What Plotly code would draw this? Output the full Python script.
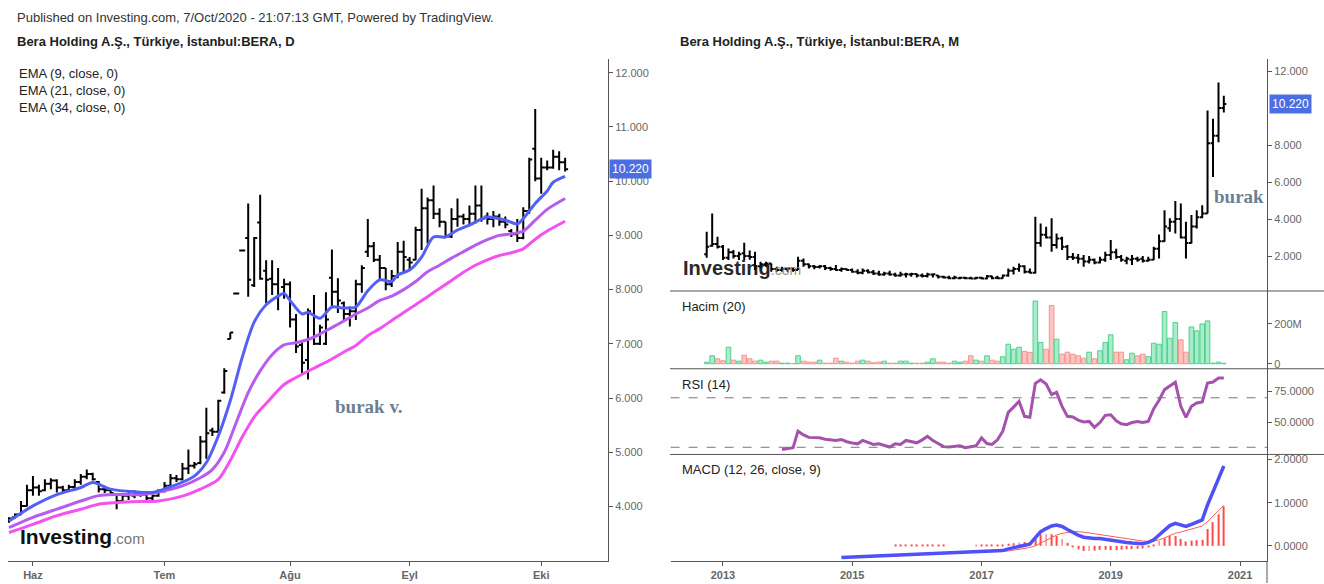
import pandas as pd
import plotly.graph_objects as go

W, H = 1324, 584


def fx(p):
    return p / W


def fy(p):
    return 1 - p / H


# ---- daily bars, left pane (Bera, D) ----
d_open = [3.74, 3.80, 3.85, 4.01, 4.30, 4.35, 4.30, 4.42, 4.48, 4.35,
          4.30, 4.36, 4.45, 4.55, 4.60, 4.45, 4.32, 4.30, 4.22, 4.10,
          4.20, 4.20, 4.24, 4.22, 4.15, 4.20, 4.28, 4.38, 4.52, 4.50,
          4.70, 4.75, 4.80, 5.20, 5.40, 5.38, 6.10, 7.09, 7.93, 8.72,
          8.95, 8.08, 9.24, 8.35, 8.20, 8.10, 8.05, 8.10, 7.45, 6.98,
          6.70, 7.55, 7.00, 7.00, 8.22, 7.96, 7.75, 7.55, 7.60, 8.10,
          8.70, 8.80, 8.55, 8.40, 8.10, 8.25, 8.70, 8.55, 8.55, 9.10,
          9.50, 9.65, 9.40, 9.25, 8.98, 9.30, 9.35, 9.30, 9.40, 9.55,
          9.35, 9.30, 9.35, 9.25, 9.08, 9.02, 8.95, 9.45, 10.60, 10.05,
          10.25, 10.25, 10.45, 10.35]
d_high = [3.80, 3.87, 4.10, 4.40, 4.56, 4.40, 4.50, 4.52, 4.50, 4.38,
          4.40, 4.50, 4.60, 4.68, 4.62, 4.47, 4.38, 4.34, 4.24, 4.25,
          4.28, 4.30, 4.26, 4.24, 4.22, 4.32, 4.45, 4.60, 4.58, 4.80,
          5.05, 4.82, 5.30, 5.82, 5.45, 5.97, 6.55, 7.21, 7.93, 8.72,
          9.59, 8.97, 9.75, 8.54, 8.54, 8.40, 8.20, 8.15, 7.55, 7.05,
          7.65, 7.90, 7.35, 7.95, 8.74, 8.21, 7.78, 7.69, 8.18, 8.45,
          9.30, 8.88, 8.64, 8.40, 8.36, 8.88, 8.90, 8.60, 9.16, 9.86,
          9.70, 9.92, 9.50, 9.25, 9.50, 9.68, 9.40, 9.55, 9.92, 9.92,
          9.42, 9.45, 9.40, 9.35, 9.12, 9.30, 9.52, 10.43, 11.33, 10.43,
          10.38, 10.58, 10.55, 10.43]
d_low = [3.70, 3.78, 3.84, 4.00, 4.20, 4.20, 4.28, 4.32, 4.26, 4.26,
         4.28, 4.32, 4.40, 4.50, 4.48, 4.26, 4.25, 4.22, 3.95, 4.08,
         4.12, 4.15, 4.18, 4.12, 4.12, 4.18, 4.26, 4.35, 4.45, 4.48,
         4.60, 4.70, 4.78, 4.88, 5.30, 5.38, 6.08, 7.09, 7.93, 8.72,
         7.87, 8.05, 8.18, 7.75, 7.90, 7.62, 7.83, 7.30, 6.83, 6.43,
         6.34, 6.98, 6.98, 6.98, 7.66, 7.57, 7.44, 7.32, 7.44, 7.94,
         8.60, 8.51, 8.18, 7.99, 8.05, 8.21, 8.33, 8.35, 8.54, 8.73,
         8.85, 9.30, 9.15, 8.95, 8.95, 9.16, 9.20, 9.20, 9.22, 9.25,
         9.20, 9.15, 9.18, 9.13, 8.97, 8.88, 8.93, 9.40, 10.00, 9.77,
         10.20, 10.23, 10.20, 10.18]
d_close = [3.78, 3.85, 4.01, 4.30, 4.35, 4.28, 4.42, 4.48, 4.35, 4.30,
           4.36, 4.45, 4.55, 4.60, 4.50, 4.32, 4.30, 4.25, 4.10, 4.20,
           4.22, 4.25, 4.22, 4.15, 4.20, 4.28, 4.38, 4.52, 4.50, 4.70,
           4.75, 4.78, 5.20, 5.35, 5.38, 5.95, 6.50, 7.21, 7.93, 8.72,
           8.18, 8.95, 8.20, 8.18, 8.10, 7.90, 8.10, 7.45, 6.95, 6.65,
           7.60, 7.00, 7.30, 7.45, 7.96, 7.80, 7.55, 7.60, 8.10, 8.40,
           8.80, 8.55, 8.40, 8.10, 8.25, 8.70, 8.60, 8.50, 9.10, 9.50,
           9.65, 9.40, 9.25, 8.98, 9.30, 9.35, 9.30, 9.40, 9.55, 9.30,
           9.30, 9.35, 9.25, 9.20, 9.02, 8.95, 9.45, 10.40, 10.05, 10.25,
           10.25, 10.45, 10.35, 10.22]

day_tick_pos = [4, 26, 47, 67, 89]
day_tick_text = ["Haz", "Tem", "Ağu", "Eyl", "Eki"]

ema9_at = [0, 4, 8, 12, 14, 17, 21, 24, 27, 31, 33, 35, 37, 39, 41, 43, 45, 46, 47, 49,
           50, 52, 54, 56, 58, 60, 62, 64, 65, 67, 69, 71, 73, 75, 77, 80, 83, 85, 86, 88,
           90, 91, 93]
ema9 = [3.73, 4.01, 4.22, 4.35, 4.44, 4.32, 4.27, 4.26, 4.36, 4.56, 4.81, 5.30, 5.95, 6.75,
        7.40, 7.72, 7.88, 7.93, 7.80, 7.55, 7.58, 7.47, 7.68, 7.66, 7.68, 7.98, 8.18, 8.15,
        8.27, 8.36, 8.60, 8.97, 8.97, 9.10, 9.19, 9.34, 9.28, 9.21, 9.31, 9.59, 9.82, 9.98,
        10.09]
ema21_at = [0, 4, 8, 12, 15, 18, 22, 26, 29, 32, 34, 36, 38, 40, 42, 44, 46, 48, 50, 52,
            54, 56, 58, 60, 62, 64, 66, 68, 70, 72, 74, 76, 78, 80, 82, 84, 86, 88, 90, 93]
ema21 = [3.61, 3.80, 3.95, 4.10, 4.20, 4.22, 4.22, 4.29, 4.38, 4.53, 4.68, 5.00, 5.55, 6.10,
         6.50, 6.80, 6.98, 7.02, 7.08, 7.18, 7.30, 7.42, 7.55, 7.66, 7.80, 7.88, 8.00, 8.15,
         8.33, 8.45, 8.58, 8.70, 8.82, 8.92, 9.00, 9.03, 9.08, 9.28, 9.48, 9.68]
ema34_at = [0, 4, 8, 12, 15, 18, 22, 25, 29, 32, 35, 37, 39, 41, 43, 46, 48, 51, 54, 56,
            58, 60, 62, 64, 66, 68, 70, 72, 74, 76, 78, 80, 82, 84, 86, 88, 90, 93]
ema34 = [3.52, 3.67, 3.83, 3.95, 4.04, 4.07, 4.09, 4.10, 4.19, 4.32, 4.50, 4.85, 5.28, 5.65,
         5.90, 6.25, 6.38, 6.55, 6.72, 6.85, 6.97, 7.15, 7.28, 7.43, 7.58, 7.72, 7.87, 8.02,
         8.17, 8.32, 8.45, 8.55, 8.63, 8.68, 8.75, 8.93, 9.08, 9.26]

# ---- monthly bars, right pane (Bera, M), Oct 2012 .. Oct 2020 ----
months = pd.date_range("2012-10-01", periods=97, freq="MS")
m_open = [2.10, 2.55, 2.65, 2.50, 1.90, 2.20, 2.00, 2.15, 2.00, 1.95,
          1.45, 1.55, 1.60, 1.30, 1.25, 1.30, 1.32, 1.25, 1.75, 1.55,
          1.45, 1.40, 1.45, 1.35, 1.30, 1.25, 1.30, 1.25, 1.15, 1.10,
          1.20, 1.12, 1.05, 1.00, 1.05, 1.00, 0.95, 1.00, 1.00, 1.03,
          0.95, 0.92, 1.00, 0.95, 0.88, 0.84, 0.80, 0.80, 0.82, 0.80,
          0.78, 0.82, 0.78, 0.90, 0.82, 0.80, 0.95, 1.20, 1.30, 1.45,
          1.15, 1.10, 2.70, 3.15, 3.00, 2.60, 2.95, 2.50, 1.95, 1.90,
          1.85, 1.70, 1.80, 1.65, 1.80, 2.05, 2.20, 1.95, 1.75, 1.80,
          1.85, 1.85, 1.75, 1.80, 2.40, 2.80, 3.50, 3.85, 4.00, 3.00,
          2.70, 3.60, 4.10, 4.30, 8.10, 8.50, 10.00]
m_high = [3.31, 4.30, 3.04, 2.59, 2.41, 2.32, 2.23, 2.72, 2.30, 2.23,
          1.69, 1.69, 1.60, 1.42, 1.42, 1.38, 1.38, 1.96, 1.87, 1.60,
          1.51, 1.51, 1.51, 1.42, 1.51, 1.38, 1.33, 1.33, 1.28, 1.33,
          1.28, 1.24, 1.20, 1.15, 1.20, 1.10, 1.15, 1.10, 1.10, 1.06,
          1.06, 1.10, 1.06, 0.97, 0.93, 0.93, 0.93, 0.88, 0.88, 0.88,
          0.88, 0.88, 0.97, 0.93, 0.93, 1.00, 1.33, 1.42, 1.60, 1.50,
          1.33, 4.13, 3.76, 3.58, 4.04, 3.22, 3.04, 2.59, 2.17, 2.11,
          2.05, 2.00, 1.87, 1.96, 2.23, 2.86, 2.40, 2.05, 1.96, 2.05,
          1.96, 2.00, 1.96, 2.50, 3.17, 4.48, 4.04, 4.98, 4.84, 3.85,
          4.22, 4.48, 4.75, 9.87, 9.42, 11.39, 10.67]
m_low = [1.90, 2.50, 2.41, 1.78, 1.78, 1.87, 1.78, 1.78, 1.80, 1.24,
         1.33, 1.42, 1.15, 1.15, 1.15, 1.15, 1.15, 1.24, 1.42, 1.33,
         1.28, 1.33, 1.24, 1.20, 1.20, 1.15, 1.20, 1.10, 1.02, 1.02,
         1.06, 0.97, 0.93, 0.93, 0.93, 0.88, 0.88, 0.84, 0.88, 0.84,
         0.84, 0.84, 0.84, 0.79, 0.79, 0.75, 0.75, 0.75, 0.75, 0.75,
         0.75, 0.75, 0.75, 0.75, 0.75, 0.79, 0.88, 1.00, 1.15, 1.06,
         1.06, 1.06, 2.50, 2.95, 2.23, 2.41, 2.32, 1.78, 1.78, 1.60,
         1.42, 1.60, 1.55, 1.60, 1.69, 1.78, 1.85, 1.69, 1.55, 1.51,
         1.69, 1.65, 1.69, 1.78, 1.87, 2.77, 3.31, 3.22, 2.95, 1.87,
         2.68, 3.49, 4.04, 4.30, 6.27, 8.16, 9.77]
m_close = [2.50, 2.65, 2.50, 1.90, 2.20, 2.00, 2.10, 2.00, 1.95, 1.45,
           1.55, 1.60, 1.30, 1.25, 1.30, 1.32, 1.25, 1.75, 1.55, 1.45,
           1.40, 1.45, 1.35, 1.30, 1.25, 1.30, 1.25, 1.15, 1.10, 1.20,
           1.12, 1.05, 1.00, 1.05, 1.00, 0.95, 1.00, 1.02, 1.03, 0.95,
           0.92, 1.00, 1.02, 0.88, 0.84, 0.80, 0.84, 0.82, 0.80, 0.78,
           0.82, 0.78, 0.90, 0.80, 0.80, 0.95, 1.20, 1.30, 1.45, 1.15,
           1.10, 2.70, 3.15, 3.00, 2.60, 2.95, 2.50, 1.95, 1.90, 1.85,
           1.70, 1.80, 1.65, 1.80, 2.05, 2.20, 1.95, 1.80, 1.85, 1.85,
           1.80, 1.75, 1.80, 2.40, 2.80, 3.60, 3.85, 4.00, 3.00, 2.70,
           3.60, 4.10, 4.30, 8.10, 8.50, 10.00, 10.22]

# volume, millions of shares
volume_m = [8, 40, 25, 15, 83, 18, 13, 43, 25, 13,
            18, 8, 13, 13, 3, 3, 1, 40, 13, 8,
            8, 18, 3, 3, 28, 13, 8, 3, 13, 18,
            13, 5, 8, 13, 3, 3, 13, 13, 3, 3,
            3, 8, 25, 8, 8, 3, 13, 8, 13, 40,
            18, 13, 40, 18, 13, 35, 98, 73, 83, 62,
            57, 315, 107, 73, 292, 123, 48, 58, 48, 40,
            28, 58, 25, 65, 107, 145, 58, 58, 20, 53,
            40, 48, 35, 103, 98, 262, 128, 207, 120, 58,
            185, 165, 200, 215, 3, 8, 2]

# RSI(14) from month 14
rsi = [28.2, 29.0, 29.6, 43.0, 40.0, 38.0, 38.0, 37.6, 36.5, 36.0,
       35.5, 36.3, 34.5, 33.5, 32.8, 35.5, 34.0, 32.3, 32.8, 31.5,
       30.2, 32.8, 32.3, 35.5, 34.5, 33.6, 36.0, 38.9, 35.5, 33.0,
       30.5, 30.2, 30.5, 31.2, 29.6, 30.5, 31.2, 37.6, 33.0, 32.3,
       36.0, 43.0, 58.2, 62.5, 67.1, 55.0, 54.2, 81.7, 84.6, 81.2,
       72.6, 74.4, 63.1, 55.0, 54.5, 52.0, 50.5, 50.9, 46.1, 50.0,
       55.8, 56.3, 51.4, 49.0, 48.2, 50.0, 50.9, 50.1, 50.9, 61.2,
       68.0, 76.6, 79.5, 82.5, 63.1, 54.2, 63.1, 65.8, 66.6, 82.0,
       82.8, 86.0, 86.0]

# MACD(12, 26, close, 9): line from month 25, signal and histogram from month 33
macd = [-0.27, -0.265, -0.26, -0.255, -0.25, -0.245, -0.24, -0.23, -0.225, -0.22,
        -0.21, -0.205, -0.20, -0.19, -0.185, -0.18, -0.175, -0.17, -0.17, -0.165,
        -0.165, -0.16, -0.16, -0.155, -0.155, -0.15, -0.145, -0.14, -0.13, -0.125,
        -0.11, -0.07, -0.04, 0.0, 0.03, 0.04, 0.19, 0.33, 0.40, 0.46,
        0.48, 0.45, 0.38, 0.31, 0.25, 0.20, 0.18, 0.17, 0.17, 0.15,
        0.12, 0.10, 0.09, 0.08, 0.065, 0.06, 0.05, 0.08, 0.14, 0.25,
        0.36, 0.47, 0.52, 0.48, 0.45, 0.50, 0.55, 0.60, 0.95, 1.25,
        1.55, 1.85]
signal = [-0.25, -0.245, -0.24, -0.235, -0.225, -0.215, -0.205, -0.20, -0.19, -0.185,
          -0.18, -0.175, -0.17, -0.17, -0.165, -0.165, -0.16, -0.16, -0.155, -0.15,
          -0.145, -0.14, -0.135, -0.12, -0.10, -0.08, -0.06, -0.04, 0.00, 0.06,
          0.13, 0.19, 0.25, 0.29, 0.31, 0.33, 0.33, 0.32, 0.30, 0.28,
          0.26, 0.24, 0.22, 0.20, 0.18, 0.16, 0.14, 0.125, 0.11, 0.105,
          0.11, 0.14, 0.18, 0.24, 0.29, 0.32, 0.35, 0.38, 0.42, 0.46,
          0.56, 0.70, 0.82, 0.93]
hist = [0.0, 0.0, 0.015, 0.015, 0.02, 0.015, 0.015, 0.015, 0.015, 0.015,
        0.01, 0.01, 0.0, 0.0, 0.0, 0.0, 0.0, 0.01, 0.01, 0.01,
        0.01, 0.015, 0.025, 0.05, 0.06, 0.08, 0.09, 0.08, 0.19, 0.27,
        0.27, 0.27, 0.23, 0.16, 0.07, -0.02, -0.08, -0.12, -0.12, -0.11,
        -0.09, -0.09, -0.10, -0.10, -0.09, -0.08, -0.075, -0.065, -0.06, -0.025,
        0.03, 0.11, 0.18, 0.23, 0.23, 0.16, 0.10, 0.12, 0.13, 0.14,
        0.39, 0.55, 0.73, 0.92]

year_ticks = ["2013-01-01", "2015-01-01", "2017-01-01", "2019-01-01", "2021-01-01"]
year_text = ["2013", "2015", "2017", "2019", "2021"]

DAY = 24 * 3600 * 1000
AX = "#555555"
TXT = "#222222"

fig = go.Figure()

# left pane
fig.add_trace(go.Ohlc(x=list(range(len(d_open))), open=d_open, high=d_high, low=d_low,
                      close=d_close, xaxis="x", yaxis="y", tickwidth=0.5,
                      increasing=dict(line=dict(color="black", width=2)),
                      decreasing=dict(line=dict(color="black", width=2)),
                      showlegend=False, hoverinfo="skip"))
for at, vals, col in [(ema34_at, ema34, "#f352f0"), (ema21_at, ema21, "#b75cf0"),
                      (ema9_at, ema9, "#5260f5")]:
    fig.add_trace(go.Scatter(x=at, y=vals, mode="lines", xaxis="x", yaxis="y",
                             line=dict(color=col, width=3, shape="spline", smoothing=0.8),
                             showlegend=False, hoverinfo="skip"))

# right pane
up = [c >= o for o, c in zip(m_open, m_close)]
fig.add_trace(go.Ohlc(x=months, open=m_open, high=m_high, low=m_low, close=m_close,
                      xaxis="x2", yaxis="y2", tickwidth=0.5,
                      increasing=dict(line=dict(color="black", width=2)),
                      decreasing=dict(line=dict(color="black", width=2)),
                      showlegend=False, hoverinfo="skip"))
fig.add_trace(go.Bar(x=months, y=[v * 1e6 for v in volume_m], xaxis="x2", yaxis="y3",
                     width=26 * DAY,
                     marker=dict(color=["#a9ecc9" if u else "#ffc4c0" for u in up],
                                 line=dict(color=["#4fd08f" if u else "#f39590" for u in up],
                                           width=1)),
                     showlegend=False, hoverinfo="skip"))
fig.add_trace(go.Scatter(x=months[14:], y=rsi, mode="lines", xaxis="x2", yaxis="y4",
                         line=dict(color="#a452ad", width=3), showlegend=False,
                         hoverinfo="skip"))
fig.add_trace(go.Bar(x=months[33:], y=hist, xaxis="x2", yaxis="y5", width=5 * DAY,
                     marker=dict(color="#ff4a4a", line=dict(width=0)),
                     showlegend=False, hoverinfo="skip"))
fig.add_trace(go.Scatter(x=months[33:], y=signal, mode="lines", xaxis="x2", yaxis="y5",
                         line=dict(color="#ff5c5c", width=1), showlegend=False,
                         hoverinfo="skip"))
fig.add_trace(go.Scatter(x=months[25:], y=macd, mode="lines", xaxis="x2", yaxis="y5",
                         line=dict(color="#5050f8", width=3.5), showlegend=False,
                         hoverinfo="skip"))

yax = dict(side="right", showgrid=False, zeroline=False, showline=True, linecolor=AX,
           ticks="outside", ticklen=4, tickcolor=AX, tickfont=dict(size=11, color="#666"),
           fixedrange=True)

fig.update_layout(
    width=W, height=H, autosize=False,
    margin=dict(l=0, r=0, t=0, b=0),
    paper_bgcolor="white", plot_bgcolor="white",
    font=dict(family="Liberation Sans, Arial, sans-serif", size=13, color=TXT),
    barmode="overlay", showlegend=False,
    xaxis=dict(domain=[fx(8), fx(608)], range=[-0.17, 100.17], anchor="y",
               tickvals=day_tick_pos, ticktext=["<b>%s</b>" % t for t in day_tick_text],
               showgrid=False, zeroline=False, showline=True, linecolor=AX,
               ticks="outside", ticklen=4, tickcolor=AX,
               tickfont=dict(size=11, color="#666"), rangeslider=dict(visible=False)),
    yaxis=dict(yax, domain=[fy(562), fy(58)], range=[2.993, 12.257], anchor="x",
               tickvals=[4, 5, 6, 7, 8, 9, 10, 11, 12], tickformat=".3f"),
    xaxis2=dict(domain=[fx(670.6), fx(1267)], type="date",
                range=["2012-03-11", "2021-06-02"], anchor="y5",
                tickvals=year_ticks, ticktext=["<b>%s</b>" % t for t in year_text],
                showgrid=False, zeroline=False, showline=True, linecolor=AX,
                ticks="outside", ticklen=4, tickcolor=AX,
                tickfont=dict(size=11, color="#666"), rangeslider=dict(visible=False)),
    yaxis2=dict(yax, domain=[fy(291), fy(58)], range=[0.108, 12.668], anchor="x2",
                tickvals=[2, 4, 6, 8, 12], tickformat=".3f"),
    yaxis3=dict(yax, domain=[fy(369), fy(291)], range=[-25e6, 365e6], anchor="x2",
                tickvals=[0, 200e6], ticktext=["0", "200M"]),
    yaxis4=dict(yax, domain=[fy(455), fy(369)], range=[24.2, 93.5], anchor="x2",
                tickvals=[50, 75], tickformat=".4f"),
    yaxis5=dict(yax, domain=[fy(562), fy(455)], range=[-0.353, 2.118], anchor="x2",
                tickvals=[0, 1, 2], tickformat=".4f"),
)

shapes = []
for yy in (291, 369, 455):
    shapes.append(dict(type="line", xref="paper", yref="paper", x0=fx(670), x1=1,
                       y0=fy(yy), y1=fy(yy), line=dict(color=AX, width=1)))
shapes.append(dict(type="line", xref="paper", yref="paper", x0=fx(1267), x1=fx(1267),
                   y0=fy(562), y1=0, line=dict(color=AX, width=1)))
for lvl in (70, 30):
    shapes.append(dict(type="line", xref="paper", yref="y4", x0=fx(670.6), x1=fx(1267),
                       y0=lvl, y1=lvl, line=dict(color="#777", width=1, dash="dash")))
fig.update_layout(shapes=shapes)

ann = []


def label(x, y, text, size=13, color=TXT, **kw):
    ann.append(dict(xref="paper", yref="paper", x=fx(x), y=fy(y), text=text,
                    showarrow=False, xanchor="left", yanchor="middle",
                    font=dict(size=size, color=color), **kw))


label(15, 17, "Published on Investing.com, 7/Oct/2020 - 21:07:13 GMT, Powered by TradingView.",
      color="#333")
label(15, 41, "<b>Bera Holding A.Ş., Türkiye, İstanbul:BERA, D</b>")
label(678, 41, "<b>Bera Holding A.Ş., Türkiye, İstanbul:BERA, M</b>")
label(17, 73, "EMA (9, close, 0)")
label(17, 90, "EMA (21, close, 0)")
label(17, 107, "EMA (34, close, 0)")
label(680, 307, "Hacim (20)")
label(680, 385, "RSI (14)")
label(680, 470, "MACD (12, 26, close, 9)")
ann.append(dict(xref="paper", yref="paper", x=fx(333), y=fy(407), text="<b>burak v.</b>",
                showarrow=False, xanchor="left", yanchor="middle",
                font=dict(family="Liberation Serif, serif", size=19, color="#6c7f92")))
ann.append(dict(xref="paper", yref="paper", x=fx(1212), y=fy(196), text="<b>burak</b>",
                showarrow=False, xanchor="left", yanchor="middle",
                font=dict(family="Liberation Serif, serif", size=19, color="#6c7f92")))
label(18, 537, "<b>Investing</b><span style='font-size:15px;color:#777'>.com</span>",
      size=21, color="#111")
label(681, 268, "<b>Investing</b><span style='font-size:14px;color:#888'>.com</span>",
      size=20, color="#111", opacity=0.9)

ann.append(dict(xref="paper", yref="y", x=fx(609), y=d_close[-1], text="%.3f" % d_close[-1],
                showarrow=False, xanchor="left", yanchor="middle", bgcolor="#4b6fe2",
                borderpad=2, font=dict(size=12, color="white")))
ann.append(dict(xref="paper", yref="y2", x=fx(1269), y=m_close[-1], text="%.3f" % m_close[-1],
                showarrow=False, xanchor="left", yanchor="middle", bgcolor="#4b6fe2",
                borderpad=2, font=dict(size=12, color="white")))
fig.update_layout(annotations=ann)

fig.write_html("out.html", config={"displayModeBar": False},
               post_script="document.body.style.margin='0';")
